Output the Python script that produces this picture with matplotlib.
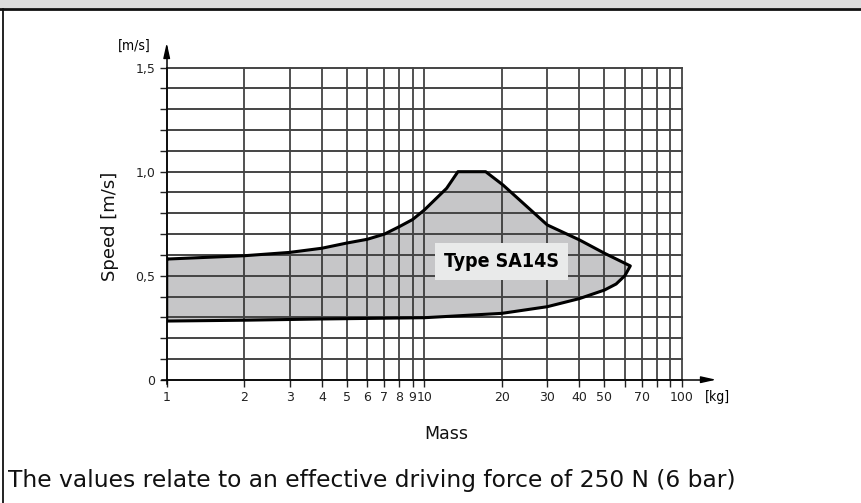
import matplotlib.pyplot as plt
from matplotlib.patches import Rectangle
from matplotlib.lines import Line2D

# operating range, upper boundary (mass kg, speed m/s)
upper_mass = [1, 2, 3, 4, 5, 6, 7, 8, 9, 10, 12.2, 13.5, 17.3, 20.2, 30, 40, 50, 63]
upper_speed = [0.58, 0.596, 0.612, 0.632, 0.657, 0.675, 0.70, 0.736, 0.77, 0.816,
               0.92, 1.0, 1.0, 0.936, 0.744, 0.672, 0.608, 0.547]
# lower boundary
lower_mass = [1, 2, 4, 10, 20, 30, 40, 50, 55.5, 60, 63]
lower_speed = [0.282, 0.286, 0.292, 0.298, 0.319, 0.351, 0.39, 0.431, 0.46, 0.50, 0.547]

x_grid = [1, 2, 3, 4, 5, 6, 7, 8, 9, 10, 20, 30, 40, 50, 60, 70, 80, 90, 100]
x_labels = ["1", "2", "3", "4", "5", "6", "7", "8", "9", "10", "20", "30", "40", "50",
            "", "70", "", "", "100"]
y_grid = [i / 10 for i in range(16)]
y_labels = {0.0: "0", 0.5: "0,5", 1.0: "1,0", 1.5: "1,5"}

fig = plt.figure(figsize=(8.61, 5.03), dpi=100)
W, H = 861, 503

def fx(px):
    return px / W

def fy(py):
    return 1 - py / H

# header band and frame
fig.patches.append(Rectangle((0, fy(8)), 1, 8 / H, transform=fig.transFigure,
                             facecolor="#dcdcdc", edgecolor="none", zorder=0))
fig.lines.append(Line2D([0, 1], [fy(8.5), fy(8.5)], transform=fig.transFigure,
                        color="#111111", lw=2))
fig.lines.append(Line2D([fx(3), fx(3)], [0, fy(8.5)], transform=fig.transFigure,
                        color="#111111", lw=1.3))

ax = fig.add_axes([fx(166.7), fy(379.7), (682 - 166.7) / W, (379.7 - 67.7) / H])
ax.set_xscale("log")
ax.set_xlim(1, 100)
ax.set_ylim(0, 1.5)

# grid
for v in x_grid:
    ax.plot([v, v], [0, 1.5], color="#222222", lw=1.1, zorder=3, clip_on=False)
for v in y_grid:
    ax.plot([1, 100], [v, v], color="#444444", lw=1.4, zorder=3, clip_on=False)

# shaded operating area
poly_x = upper_mass + lower_mass[::-1]
poly_y = upper_speed + lower_speed[::-1]
ax.fill(poly_x, poly_y, facecolor="#c6c6c8", edgecolor="none", zorder=2)
ax.plot(poly_x + [poly_x[0]], poly_y + [poly_y[0]], color="black", lw=2.2, zorder=4)

ax.text(19.9, 0.568, "Type SA14S", fontsize=14, fontweight="bold", fontstretch="condensed",
        ha="center", va="center", zorder=5,
        bbox=dict(boxstyle="square,pad=0.45", facecolor="#e9eaea", edgecolor="none"))

for s in ["top", "right", "left", "bottom"]:
    ax.spines[s].set_visible(False)

ax.set_xticks(x_grid)
ax.set_xticklabels(x_labels)
ax.xaxis.set_minor_locator(plt.NullLocator())
ax.set_yticks(y_grid)
ax.set_yticklabels([y_labels.get(round(v, 1), "") for v in y_grid])
ax.tick_params(axis="both", length=5, width=1, color="#222222", labelsize=9,
               labelcolor="#222222", pad=3)

# axis arrows
fig.lines.append(Line2D([fx(166.7), fx(166.7)], [fy(384), fy(48)], transform=fig.transFigure,
                        color="black", lw=1.1))
fig.lines.append(Line2D([fx(162), fx(710)], [fy(379.7), fy(379.7)], transform=fig.transFigure,
                        color="black", lw=1.1))
ax.annotate("", xy=(fx(166.7), fy(40)), xytext=(fx(166.7), fy(54)), xycoords="figure fraction",
            arrowprops=dict(arrowstyle="-|>,head_length=0.9,head_width=0.2", color="black", lw=1))
ax.annotate("", xy=(fx(719), fy(379.7)), xytext=(fx(703), fy(379.7)), xycoords="figure fraction",
            arrowprops=dict(arrowstyle="-|>,head_length=0.9,head_width=0.2", color="black", lw=1))

fig.text(fx(151), fy(46), "[m/s]", fontsize=10, fontstretch="condensed", ha="right", va="center")
fig.text(fx(705), fy(397), "[kg]", fontsize=10, fontstretch="condensed", ha="left", va="center")
fig.text(fx(110), fy(226), "Speed [m/s]", fontsize=13, rotation=90, ha="center", va="center",
         color="#111111")
fig.text(fx(446), fy(434), "Mass", fontsize=12.5, ha="center", va="center", color="#111111")
fig.text(fx(8), fy(480), "The values relate to an effective driving force of 250 N (6 bar)",
         fontsize=16.8, ha="left", va="center", color="#111111")

fig.savefig("out.png", dpi=100)
